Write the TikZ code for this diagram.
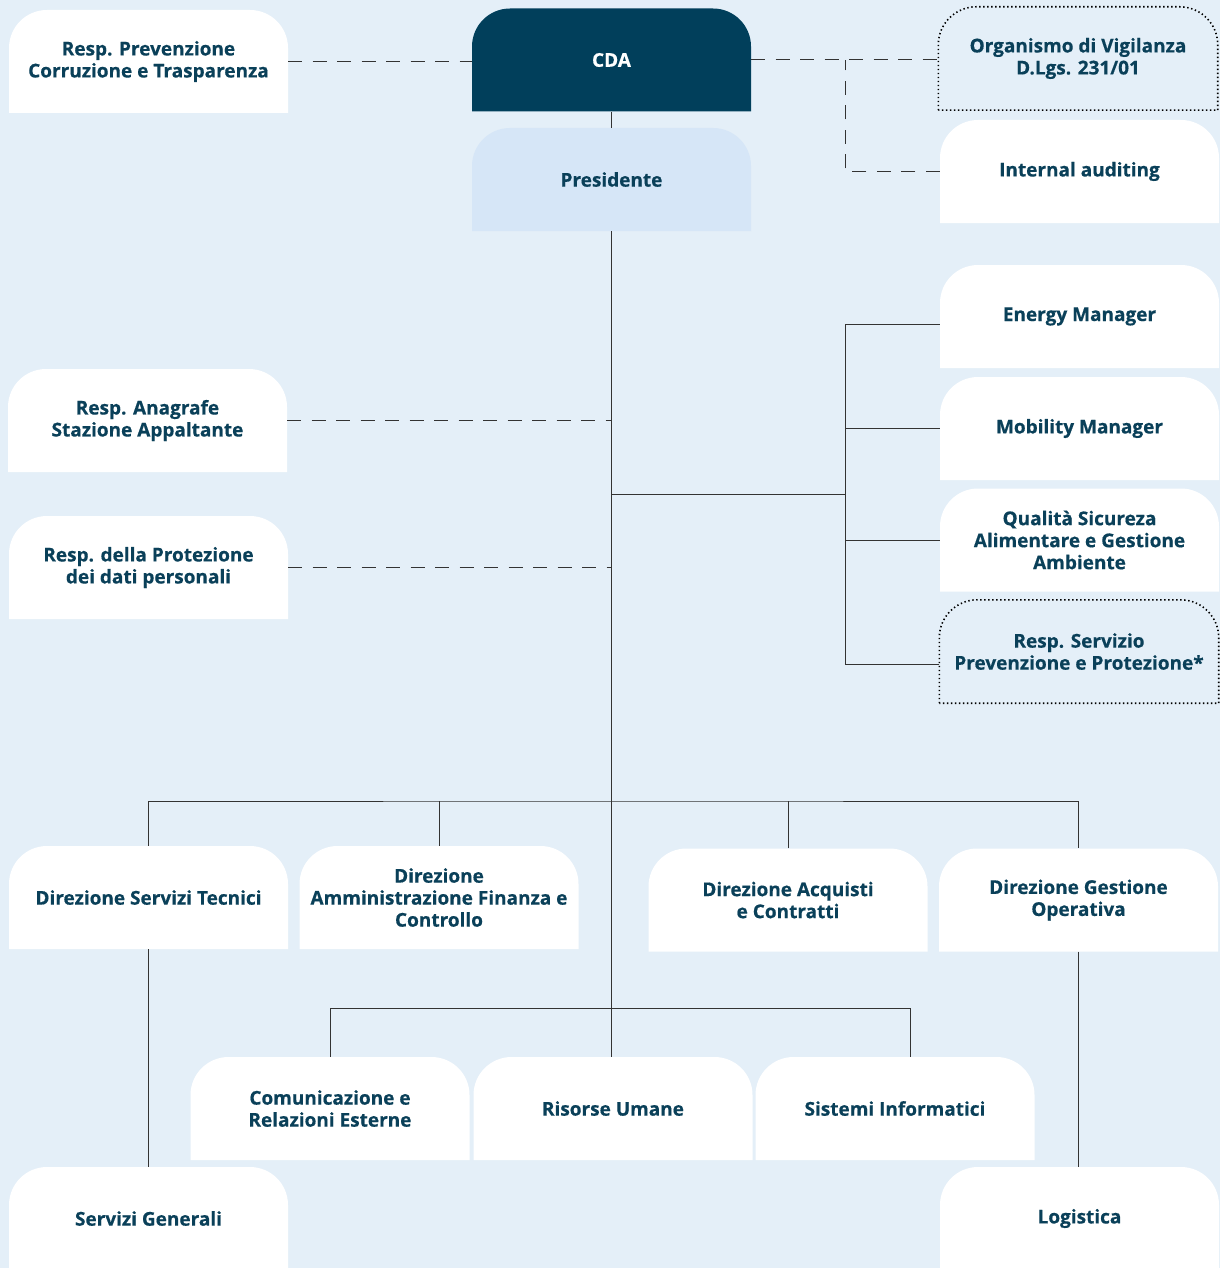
\documentclass[tikz,border=0pt]{standalone}
\usepackage{fontspec}
\setmainfont{Open Sans}[BoldFeatures={FakeBold=0.5}]
\usetikzlibrary{calc}

\definecolor{pagebg}{HTML}{E4EFF8}
\definecolor{inkteal}{HTML}{0A4059}
\definecolor{cdateal}{HTML}{013F5B}
\definecolor{presblue}{HTML}{D6E6F7}
\definecolor{linegray}{HTML}{333333}

\tikzset{
    box/.style={rectangle, minimum width=279pt, minimum height=103pt, inner sep=0pt,
        align=center, text=inkteal},
    unit/.style={box, fill=pagebg,
        path picture={\fill[#1] (path picture bounding box.south west) [rounded corners=38pt]
            -- (path picture bounding box.north west) -- (path picture bounding box.north east)
            [sharp corners] -- (path picture bounding box.south east) -- cycle;}},
    unit/.default=white,
    extunit/.style={box,
        append after command={\pgfextra{\draw[black, line width=1.6pt, dash pattern=on 1.4pt off 2.6pt]
            (\tikzlastnode.south west) [rounded corners=38pt] -- (\tikzlastnode.north west)
            -- (\tikzlastnode.north east) [sharp corners] -- (\tikzlastnode.south east) -- cycle;}}},
    link/.style={draw=linegray, line width=1pt},
    relation/.style={link, dash pattern=on 14pt off 10.5pt}
}

\begin{document}
\begin{tikzpicture}[x=1pt, y=-1pt, font=\fontsize{19}{22}\selectfont\bfseries]
    \fill[pagebg] (0,0) rectangle (1220,1268);
    \useasboundingbox (0,0) rectangle (1220,1268);

    % Board and staff
    \node[unit] (rpct) at (148.5,61.5) {Resp. Prevenzione\\Corruzione e Trasparenza};
    \node[unit=cdateal, text=white] (cda) at (611.5,60) {CDA};
    \node[extunit] (odv) at (1078,58.5) {Organismo di Vigilanza\\D.Lgs. 231/01};
    \node[unit=presblue] (pres) at (611.5,179.5) {Presidente};
    \node[unit] (audit) at (1079.5,171.5) {Internal auditing};

    \node[unit] (energy) at (1079.5,316.5) {Energy Manager};
    \node[unit] (mobility) at (1079.5,428.5) {Mobility Manager};
    \node[unit] (qsa) at (1079.5,540) {Qualità Sicureza\\Alimentare e Gestione\\Ambiente};
    \node[extunit] (rspp) at (1079,651.5) {Resp. Servizio\\Prevenzione e Protezione*};

    \node[unit] (anagrafe) at (147.5,420.5) {Resp. Anagrafe\\Stazione Appaltante};
    \node[unit] (privacy) at (148.5,567.5) {Resp. della Protezione\\dei dati personali};

    % Directions
    \node[unit] (dst) at (148.5,897.5) {Direzione Servizi Tecnici};
    \node[unit] (afc) at (439,897.5) {Direzione\\Amministrazione Finanza e\\Controllo};
    \node[unit] (acq) at (788,900) {Direzione Acquisti\\e Contratti};
    \node[unit] (dgo) at (1078.5,900) {Direzione Gestione\\Operativa};

    \node[unit] (comm) at (330,1108.5) {Comunicazione e\\Relazioni Esterne};
    \node[unit] (hr) at (613,1108.5) {Risorse Umane};
    \node[unit] (ict) at (895,1108.5) {Sistemi Informatici};

    \node[unit] (sg) at (148.5,1218.5) {Servizi Generali};
    \node[unit] (logi) at (1079.5,1218.5) {Logistica};

    % Hierarchy
    \coordinate (oversight) at (845,60);
    \coordinate (staff) at (845,494);
    \coordinate (deptbus) at (613,801);
    \coordinate (servbus) at (613,1008);

    \draw[link] (cda.south) -- (pres.north);
    \draw[link] (pres.south) -- (pres.south |- hr.north);

    \draw[relation] (rpct.east) -- (rpct.east -| cda.west);
    \draw[relation] (cda.east) -- (cda.east -| odv.west);
    \draw[relation] (audit.west) -| (oversight);
    \draw[relation] (anagrafe.east) -- (anagrafe.east -| pres.south);
    \draw[relation] (privacy.east) -- (privacy.east -| pres.south);

    \draw[link] (pres.south |- staff) -- (staff);
    \draw[link] ([yshift=-7.5pt]energy.west) -| (staff);
    \draw[link] ([yshift=-12.5pt]rspp.west) -| (staff);
    \draw[link] (mobility.west) -- (mobility.west -| staff);
    \draw[link] (qsa.west) -- (qsa.west -| staff);

    \draw[link] (dst.north) |- (deptbus) -| (dgo.north);
    \draw[link] (afc.north) -- (afc.north |- deptbus);
    \draw[link] (acq.north) -- (acq.north |- deptbus);

    \draw[link] (comm.north) |- (servbus) -| ([xshift=15pt]ict.north);

    \draw[link] (dst.south) -- (sg.north);
    \draw[link] (dgo.south) -- (dgo.south |- logi.north);
\end{tikzpicture}
\end{document}
